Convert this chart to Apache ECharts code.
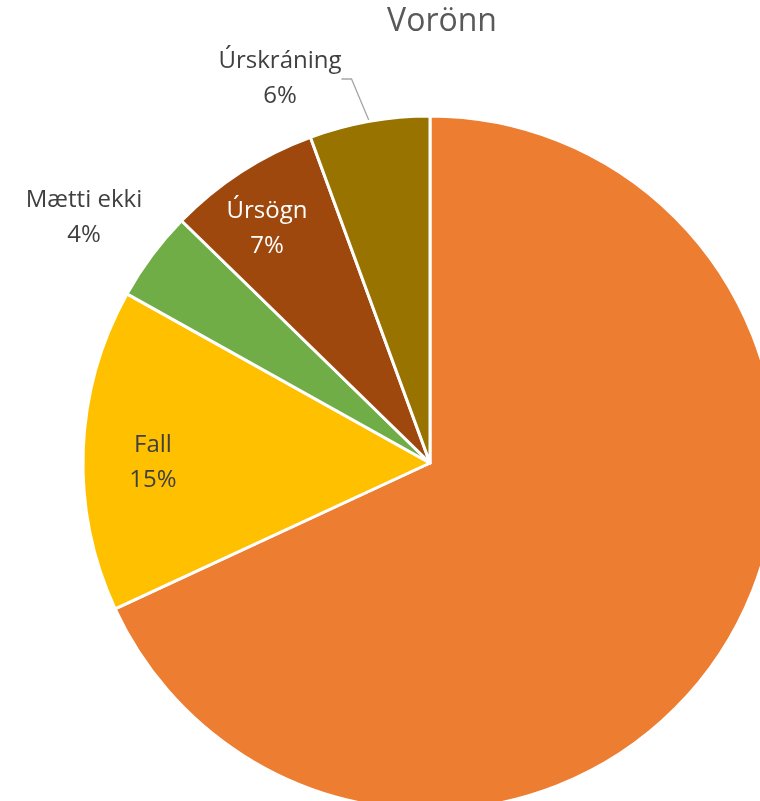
<!DOCTYPE html>
<html>
<head>
<meta charset="utf-8">
<script src="https://cdn.jsdelivr.net/npm/echarts@6/dist/echarts.min.js"></script>
<style>
    html, body { margin: 0; padding: 0; background: #fff; }
    #myChart { width: 760px; height: 801px; }
</style>
</head>
<body>
<div id="myChart"></div>
<script>
    // flokkar og gildi (hlutfall í %)
    let categories = ['Staðið', 'Fall', 'Mætti ekki', 'Úrsögn', 'Úrskráning'];
    let values = [68.1, 15.0, 4.2, 7.1, 5.6];
    let colors = ['#ED7D31', '#FFC000', '#70AD47', '#9E480E', '#997300'];
    let labelColors = ['#404040', '#404040', '#404040', '#ffffff', '#404040'];
    // staðsetning merkimiða (miðja texta)
    let labelPos = [[613, 578], [153, 463], [84, 218], [267, 229], [280, 79]];

    let myChart = echarts.init(document.getElementById('myChart'));

    let data = categories.map((name, i) => ({
        name: name,
        value: values[i],
        itemStyle: { color: colors[i] },
        label: { color: labelColors[i] },
        labelLine: { show: i === 4 }
    }));

    let options = {
        animation: false,
        title: {
            text: 'Vorönn',
            left: 437,
            top: 1,
            textAlign: 'center',
            textStyle: {
                fontFamily: 'Open Sans',
                fontWeight: 'normal',
                fontSize: 32,
                color: '#595959'
            }
        },
        series: [{
            type: 'pie',
            center: [430, 463],
            radius: 347,
            startAngle: 90,
            clockwise: true,
            itemStyle: { borderColor: '#fff', borderWidth: 3 },
            label: {
                show: true,
                position: 'outside',
                fontFamily: 'Open Sans',
                fontSize: 24,
                lineHeight: 35,
                align: 'center',
                formatter: p => p.name + '\n' + Math.round(p.percent) + '%'
            },
            labelLine: {
                show: true,
                length: 10,
                length2: 10,
                lineStyle: { color: '#A6A6A6', width: 1.3 }
            },
            labelLayout: params => ({
                x: labelPos[params.dataIndex][0],
                y: labelPos[params.dataIndex][1],
                align: 'center',
                verticalAlign: 'middle'
            }),
            data: data
        }]
    };

    myChart.setOption(options);
</script>
</body>
</html>
